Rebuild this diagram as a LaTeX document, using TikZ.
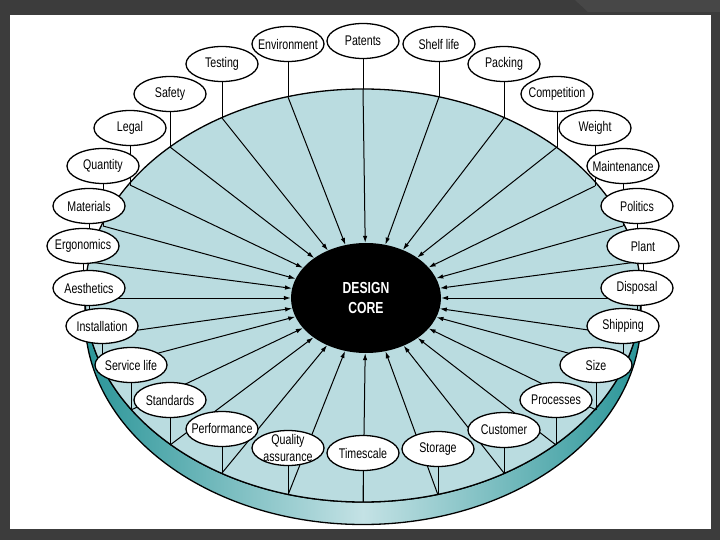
\documentclass[tikz,border=0pt]{standalone}
\usepackage{fontspec}
\setmainfont{Liberation Sans}[FakeStretch=0.76]
\usetikzlibrary{shapes.geometric,arrows.meta}
\definecolor{frame}{HTML}{3C3C3C}
\definecolor{frameb}{HTML}{474747}
\definecolor{face}{HTML}{BADCE0}
\definecolor{rimdark}{HTML}{2A9598}
\definecolor{rimlight}{HTML}{C4E2E5}
\pgfdeclarelayer{back}
\pgfdeclarelayer{mid}
\pgfsetlayers{back,mid,main}
\begin{document}
\begin{tikzpicture}[x=1pt,y=-1pt,
  lab/.style={ellipse,draw,line width=1.3pt,fill=white,minimum width=72pt,minimum height=35pt,
    inner xsep=-9pt,inner ysep=-6pt,font=\fontsize{14}{15}\selectfont,align=center},
  pinline/.style={line width=1pt},
  arr/.style={line width=1pt,-{Latex[length=7pt,width=4.5pt]}},
  rimline/.style={line width=1.3pt}]
\useasboundingbox (0,0) rectangle (720,540);
\begin{pgfonlayer}{back}
  \fill[frame] (0,0) rectangle (720,540);
  \fill[frameb] (575,0) -- (588,12) -- (720,12) -- (720,0) -- cycle;
  \fill[white] (10,15) rectangle (711,529);
  % side of the disc
  \draw[rimline,left color=rimdark,right color=rimdark,middle color=rimlight]
    (85,318) arc[start angle=180,end angle=360,x radius=278pt,y radius=206.5pt]
    -- (641,295.5) arc[start angle=0,end angle=-180,x radius=278pt,y radius=206.5pt] -- cycle;
  % top face of the disc
  \draw[rimline,fill=face] (363,295.5) ellipse[x radius=278pt,y radius=206.5pt];
\end{pgfonlayer}

\node[ellipse,fill=black,minimum width=150pt,minimum height=110pt,inner sep=0pt,
  text=white,font=\fontsize{16}{20}\selectfont\bfseries,align=center] (core) at (366,298) {DESIGN\\CORE};

\foreach \n/\x/\y/\fy/\t in {
  env/288/44/97/Environment,
  pat/363/41/89/Patents,
  shelf/439/44/97/Shelf life,
  test/222/64/118/Testing,
  pack/504/64/118/Packing,
  safety/170/94/147/Safety,
  comp/557/94/147/Competition,
  legal/130/128/185/Legal,
  weight/595/128/186/Weight,
  quant/103/166/226/Quantity,
  maint/623/166/226/Maintenance,
  mat/89/206/262/Materials,
  pol/637/206/262/Politics,
  ergo/83/246/298/Ergonomics,
  plant/643/246/298/Plant,
  aest/89/288/337/Aesthetics,
  disp/637/288/337/Disposal,
  inst/102/326/368/Installation,
  ship/623/326/368/Shipping,
  serv/131/365/410/Service life,
  size/596/365/410/Size,
  std/170/400/445/Standards,
  proc/556/400/445/Processes,
  perf/222/429/473/Performance,
  cust/504/430/473/Customer,
  qa/288/448/495/{Quality\\[2pt]assurance},
  stor/438/449/495/Storage,
  time/363/453/502/Timescale}
{
  \node[lab] (\n) at (\x,\y) {\t};
  \coordinate (f\n) at (\x,\fy);
  \begin{pgfonlayer}{mid}
    \draw[pinline] (\n.south) -- (f\n);
    \draw[arr] (f\n) -- (core);
  \end{pgfonlayer}
}
\end{tikzpicture}
\end{document}
